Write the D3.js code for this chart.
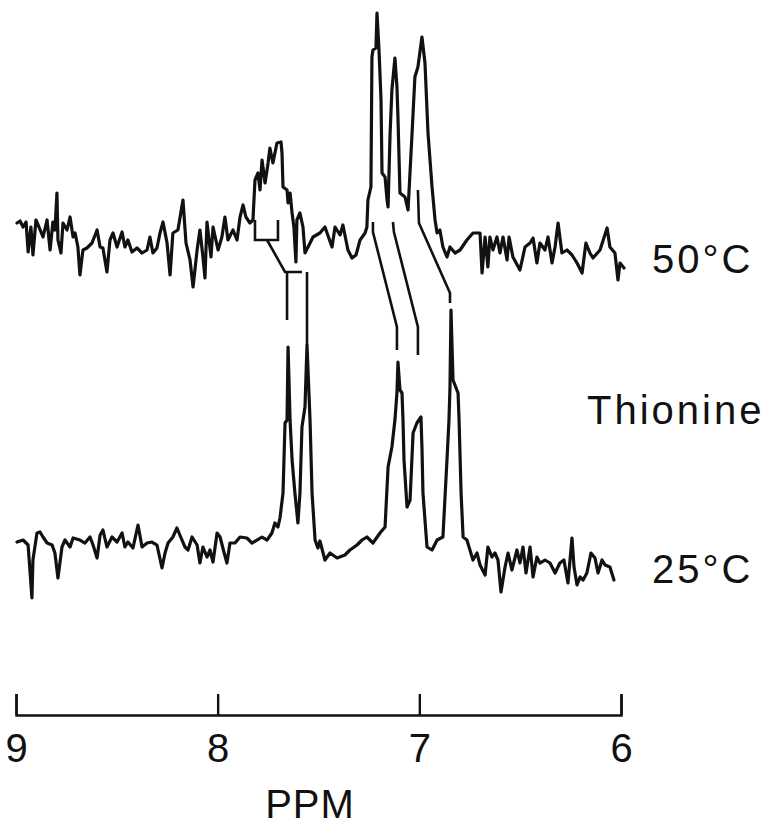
<!DOCTYPE html>
<meta charset="utf-8">
<style>
    body { margin: 0; background: #fff; }
    svg { display: block; }
    .trace { fill: none; stroke: #111; stroke-width: 3.2; stroke-linejoin: round; stroke-linecap: round; }
    .link { fill: none; stroke: #111; stroke-width: 2.6; }
    .axis path, .axis line { stroke: #111; stroke-width: 2.4; }
    .axis text { font-family: 'Liberation Sans', Arial, sans-serif; font-size: 40px; fill: #111; }
    .label { font-family: 'Liberation Sans', Arial, sans-serif; font-size: 40px; fill: #111; letter-spacing: 3px; }
</style>
<svg width="770" height="826"></svg>
<script src="https://d3js.org/d3.v7.min.js"></script>
<script>
    // 50 C spectrum (chemical shift in ppm, intensity in arbitrary units)
    var ppm50 = [8.995, 8.980, 8.965, 8.950, 8.940, 8.926, 8.916, 8.901, 8.886, 8.866, 8.846, 8.831, 8.817, 8.807, 8.797, 8.792,
        8.777, 8.767, 8.747, 8.732, 8.717, 8.707, 8.693, 8.683, 8.668, 8.648, 8.623, 8.598, 8.583, 8.569, 8.549, 8.534,
        8.519, 8.499, 8.474, 8.460, 8.445, 8.425, 8.400, 8.375, 8.350, 8.336, 8.321, 8.301, 8.286, 8.271, 8.251, 8.236,
        8.222, 8.197, 8.172, 8.157, 8.137, 8.122, 8.102, 8.088, 8.073, 8.063, 8.053, 8.033, 8.023, 7.998, 7.979, 7.964,
        7.949, 7.924, 7.904, 7.889, 7.874, 7.860, 7.840, 7.825, 7.815, 7.800, 7.790, 7.780, 7.765, 7.750, 7.741, 7.726,
        7.706, 7.686, 7.681, 7.676, 7.656, 7.651, 7.641, 7.631, 7.622, 7.612, 7.607, 7.592, 7.577, 7.567, 7.552, 7.527,
        7.493, 7.468, 7.433, 7.418, 7.393, 7.379, 7.354, 7.334, 7.314, 7.294, 7.269, 7.260, 7.255, 7.240, 7.235, 7.230,
        7.215, 7.210, 7.200, 7.190, 7.185, 7.170, 7.160, 7.155, 7.145, 7.136, 7.121, 7.111, 7.106, 7.096, 7.071, 7.056,
        7.036, 7.022, 7.007, 6.987, 6.972, 6.957, 6.937, 6.922, 6.912, 6.898, 6.883, 6.863, 6.848, 6.823, 6.798, 6.764,
        6.734, 6.699, 6.689, 6.674, 6.660, 6.650, 6.635, 6.615, 6.600, 6.585, 6.565, 6.555, 6.536, 6.501, 6.476, 6.451,
        6.436, 6.417, 6.402, 6.377, 6.362, 6.342, 6.327, 6.312, 6.293, 6.268, 6.243, 6.218, 6.193, 6.174, 6.154, 6.139,
        6.104, 6.069, 6.055, 6.030, 6.015, 6.005, 5.985];
    var int50 = [22, 24, 18, 23, -7, 18, -10, 25, 18, 8, 25, -5, 23, 15, 52, 5,
        -8, 22, 15, 28, 8, 12, -2, -30, -5, -3, 2, 15, -2, -3, -27, 5,
        12, -2, 13, -2, 5, -7, -3, -8, -5, 8, -8, -3, 12, 23, 2, -30,
        12, 15, 45, 2, -15, -42, -5, 15, -12, -33, 23, -12, 18, -5, 8, 28,
        5, 15, 5, 28, 40, 28, 22, 25, 65, 72, 55, 85, 62, 82, 97, 82,
        102, 103, 92, 58, 55, 42, 52, 32, 18, -17, 25, 32, 18, -8, -2, 8,
        12, 18, -2, 18, 10, 20, -5, -13, -10, 5, 12, 18, 45, 58, 188, 195,
        197, 232, 195, 145, 72, 68, 45, 38, 112, 155, 187, 158, 128, 52, 48, 35,
        112, 168, 178, 208, 182, 112, 58, 25, 12, 15, -2, -12, -2, -8, -5, 5,
        12, 12, -28, 8, -22, 8, -5, 8, -8, 8, -15, 8, -12, -25, -2, 2,
        7, -18, 2, -5, 8, -18, -2, 22, -8, -5, -10, -18, -28, 2, -8, -13,
        -5, 17, -2, -8, -35, -18, -23];

    // 25 C spectrum
    var ppm25 = [8.995, 8.965, 8.940, 8.921, 8.916, 8.896, 8.881, 8.866, 8.846, 8.821, 8.807, 8.792, 8.772, 8.757, 8.732, 8.717,
        8.683, 8.658, 8.633, 8.618, 8.598, 8.583, 8.569, 8.549, 8.524, 8.499, 8.474, 8.460, 8.445, 8.420, 8.395, 8.375,
        8.350, 8.326, 8.301, 8.276, 8.261, 8.246, 8.222, 8.202, 8.177, 8.162, 8.147, 8.127, 8.102, 8.088, 8.073, 8.053,
        8.038, 8.023, 8.003, 7.988, 7.969, 7.954, 7.939, 7.914, 7.889, 7.855, 7.830, 7.805, 7.780, 7.755, 7.731, 7.716,
        7.701, 7.691, 7.676, 7.666, 7.656, 7.651, 7.641, 7.631, 7.617, 7.602, 7.592, 7.582, 7.567, 7.557, 7.542, 7.532,
        7.517, 7.503, 7.493, 7.468, 7.443, 7.408, 7.369, 7.344, 7.309, 7.284, 7.260, 7.230, 7.195, 7.170, 7.155, 7.136,
        7.121, 7.111, 7.106, 7.096, 7.086, 7.081, 7.076, 7.061, 7.046, 7.031, 7.012, 6.992, 6.987, 6.982, 6.962, 6.937,
        6.912, 6.883, 6.863, 6.853, 6.848, 6.843, 6.833, 6.808, 6.803, 6.793, 6.783, 6.764, 6.749, 6.734, 6.714, 6.699,
        6.674, 6.660, 6.640, 6.625, 6.610, 6.595, 6.575, 6.560, 6.541, 6.516, 6.501, 6.486, 6.471, 6.451, 6.436, 6.417,
        6.402, 6.377, 6.352, 6.327, 6.303, 6.283, 6.263, 6.243, 6.233, 6.218, 6.203, 6.188, 6.169, 6.149, 6.129, 6.114,
        6.094, 6.079, 6.055, 6.035];
    var int25 = [6, 8, 3, -50, -12, 15, 16, 11, 5, 3, -5, -30, 1, 8, 1, 10,
        8, 5, 11, 3, -10, 13, 18, 1, 11, 6, 15, 1, 6, 0, 23, 1,
        5, 6, 3, -20, -5, 5, 11, 20, 8, 1, -2, 11, 3, -15, 1, -9,
        -2, -14, 15, 11, -4, -15, 5, 5, 11, 10, 5, 8, 11, 8, 15, 25,
        21, 30, 55, 125, 128, 201, 128, 88, 55, 25, 55, 121, 141, 203, 128, 55,
        8, 0, 7, -12, -5, -10, -7, -2, 3, 8, 11, 5, 15, 21, 81, 101,
        128, 155, 186, 158, 155, 128, 88, 41, 48, 115, 125, 131, 101, 55, 1, -2,
        8, 11, 88, 128, 161, 238, 168, 155, 128, 55, 11, 8, -2, -12, -5, -17,
        -27, 1, -9, -5, -12, -44, -19, -5, -22, -2, -15, 1, -25, 1, -29, -9,
        -15, -12, -15, -25, -15, -12, -35, 10, -19, -37, -29, -32, -25, -5, -10, -25,
        -12, -17, -19, -32];

    // vertical offset of each trace
    var offset50 = 303, offset25 = 0;

    // correlation lines linking the peaks of the two spectra: [ppm, level]
    var links = [
        [[7.815, 328], [7.815, 308], [7.701, 308], [7.701, 328]],
        [[7.755, 308], [7.666, 276], [7.582, 276]],
        [[7.656, 276], [7.656, 228]],
        [[7.557, 276], [7.557, 203]],
        [[7.230, 326], [7.230, 316], [7.111, 221], [7.111, 198]],
        [[7.131, 326], [7.126, 316], [7.007, 221], [7.007, 193]],
        [[7.007, 358], [7.002, 325], [6.848, 255], [6.848, 245]]
    ];

    var tickValues = [9, 8, 7, 6];

    var svg = d3.select("svg");

    var x = d3.scaleLinear().domain([9, 6]).range([16, 621]);
    var y = d3.scaleLinear().domain([0, 548]).range([548, 0]);

    function traceLine(offset) {
        return d3.line()
            .x(function(d) { return x(d[0]); })
            .y(function(d) { return y(d[1] + offset); });
    }

    var data50 = ppm50.map(function(p, i) { return [p, int50[i]]; });
    var data25 = ppm25.map(function(p, i) { return [p, int25[i]]; });

    svg.append("path").attr("class", "trace").attr("d", traceLine(offset50)(data50));
    svg.append("path").attr("class", "trace").attr("d", traceLine(offset25)(data25));

    svg.selectAll(".link")
        .data(links)
        .enter().append("path")
        .attr("class", "link")
        .attr("d", traceLine(0));

    // ppm axis, ticks pointing up
    svg.append("g")
        .attr("class", "axis")
        .attr("transform", "translate(0,715)")
        .call(d3.axisBottom(x).tickValues(tickValues).tickSize(-21).tickSizeOuter(-21).tickPadding(19)
            .tickFormat(d3.format("d")));

    svg.append("text").attr("class", "label").attr("x", 310).attr("y", 818)
        .attr("text-anchor", "middle").style("letter-spacing", "1px").text("PPM");

    svg.append("text").attr("class", "label").attr("x", 652).attr("y", 273).text("50°C");
    svg.append("text").attr("class", "label").attr("x", 587).attr("y", 424).text("Thionine");
    svg.append("text").attr("class", "label").attr("x", 652).attr("y", 583).text("25°C");
</script>
